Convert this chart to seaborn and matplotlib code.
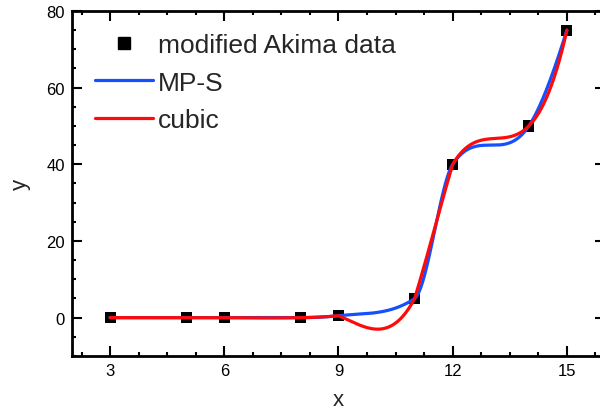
import numpy as np
import pandas as pd
import matplotlib
matplotlib.use("Agg")
import matplotlib.pyplot as plt
from matplotlib.ticker import MultipleLocator
from matplotlib.lines import Line2D
import seaborn as sns

# modified Akima data set
x_data = [3, 5, 6, 8, 9, 11, 12, 14, 15]
y_data = [0, 0, 0, 0, 0.5, 5, 40, 50, 75]

labels = ["modified Akima data", "MP-S", "cubic"]
x_ticks = [3, 6, 9, 12, 15]
y_ticks = [0, 20, 40, 60, 80]


def local_cubic(x, y, xs):
    """Piecewise cubic: on each interval, the cubic through the four nearest nodes."""
    x = np.asarray(x, float)
    y = np.asarray(y, float)
    n = len(x)
    k = np.clip(np.searchsorted(x, xs) - 1, 0, n - 2)
    out = np.empty_like(xs)
    for j, (xv, kk) in enumerate(zip(xs, k)):
        s = int(np.clip(kk - 1, 0, n - 4))
        nodes = x[s:s + 4]
        vals = y[s:s + 4]
        total = 0.0
        for a in range(4):
            w = 1.0
            for b in range(4):
                if a != b:
                    w *= (xv - nodes[b]) / (nodes[a] - nodes[b])
            total += w * vals[a]
        out[j] = total
    return out


def monotone_spline(x, y, xs):
    """Monotonicity-preserving cubic Hermite: parabolic slopes with a 3*minmod limiter."""
    x = np.asarray(x, float)
    y = np.asarray(y, float)
    n = len(x)
    h = np.diff(x)
    d = np.diff(y) / h
    m = np.zeros(n)
    for i in range(1, n - 1):
        est = (d[i - 1] * h[i] + d[i] * h[i - 1]) / (h[i - 1] + h[i])
        if d[i - 1] * d[i] > 0:
            cap = 3 * min(abs(d[i - 1]), abs(d[i]))
            m[i] = np.sign(est) * min(abs(est), cap)

    def end(h0, h1, d0, d1):
        v = ((2 * h0 + h1) * d0 - h0 * d1) / (h0 + h1)
        if np.sign(v) != np.sign(d0):
            return 0.0
        return np.sign(v) * min(abs(v), 3 * abs(d0))

    m[0] = end(h[0], h[1], d[0], d[1])
    m[-1] = end(h[-1], h[-2], d[-1], d[-2])
    k = np.clip(np.searchsorted(x, xs) - 1, 0, n - 2)
    t = (xs - x[k]) / h[k]
    h00 = 2 * t ** 3 - 3 * t ** 2 + 1
    h10 = t ** 3 - 2 * t ** 2 + t
    h01 = -2 * t ** 3 + 3 * t ** 2
    h11 = t ** 3 - t ** 2
    return h00 * y[k] + h10 * h[k] * m[k] + h01 * y[k + 1] + h11 * h[k] * m[k + 1]


xs = np.linspace(x_data[0], x_data[-1], 1201)
points = pd.DataFrame({"x": x_data, "y": y_data})
curves = pd.DataFrame({
    "x": np.concatenate([xs, xs]),
    "y": np.concatenate([monotone_spline(x_data, y_data, xs),
                         local_cubic(x_data, y_data, xs)]),
    "method": [labels[1]] * len(xs) + [labels[2]] * len(xs),
})

sns.set_theme(style="ticks")
plt.rcParams["font.family"] = ["Liberation Sans", "DejaVu Sans"]

blue = "#1450ff"
red = "#ff0a0a"

fig = plt.figure(figsize=(6.0, 4.1), dpi=100)
ax = fig.add_axes([0.12, 0.1293, 0.8883, 0.8415])

sns.scatterplot(data=points, x="x", y="y", marker="s", s=64, color="black",
                edgecolor="none", ax=ax, zorder=2, legend=False)
sns.lineplot(data=curves, x="x", y="y", hue="method",
             palette={labels[1]: blue, labels[2]: red},
             linewidth=2.3, ax=ax, zorder=3, legend=False, sort=False,
             estimator=None)

ax.set_xlim(2, 16)
ax.set_ylim(-10, 80)
ax.set_xticks(x_ticks)
ax.set_yticks(y_ticks)
ax.xaxis.set_minor_locator(MultipleLocator(0.75))
ax.yaxis.set_minor_locator(MultipleLocator(5))
ax.tick_params(which="both", direction="in", top=True, right=True,
               labelsize=12, colors="black")
ax.tick_params(which="major", length=7, width=1.5, pad=5)
ax.tick_params(which="minor", length=3, width=1.5)
for sp in ax.spines.values():
    sp.set_visible(True)
    sp.set_linewidth(2)
    sp.set_color("black")

ax.set_xlabel("x", fontsize=16, labelpad=8)
ax.set_ylabel("y", fontsize=16, labelpad=11)

handles = [
    Line2D([], [], marker="s", color="black", linestyle="none", markersize=8),
    Line2D([], [], color=blue, linewidth=2.3),
    Line2D([], [], color=red, linewidth=2.3),
]
ax.legend(handles, labels, loc="upper left", bbox_to_anchor=(0.043, 0.935),
          borderaxespad=0, borderpad=0, frameon=False, fontsize=19,
          handlelength=2.2, handletextpad=0.2, labelspacing=0.5)

fig.savefig("out.png", dpi=100)
